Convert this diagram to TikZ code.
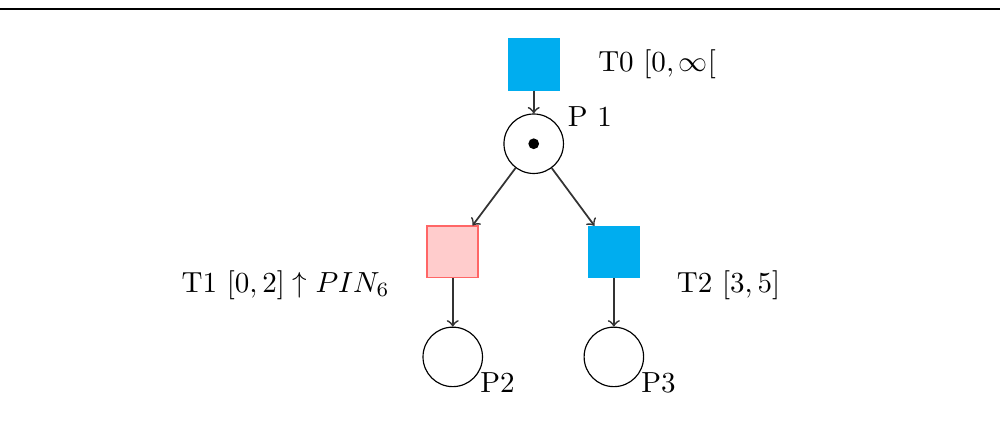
\documentclass[tikz,border=0pt]{standalone}
\usetikzlibrary{positioning}
\begin{document}
\begin{tikzpicture}
    % Define styles
    \tikzset{
        placecircle/.style={circle, draw, minimum size=0.72cm, inner sep=0pt},
        transitionbox/.style={draw=cyan, fill=cyan, minimum size=0.62cm, inner sep=0pt},
        firedbox/.style={draw=red!60, fill=red!20, semithick, minimum size=0.62cm, inner sep=0pt},
        tokendot/.style={circle, fill=black, minimum size=0.13cm, inner sep=0pt},
        arcarrow/.style={->, semithick, black!80}
    }

    % Frame
    \useasboundingbox (0,0) rectangle (12.14,5.12);
    \coordinate (rulel) at (0,5.01);
    \coordinate (ruler) at (12.10,5.01);
    \draw[semithick] (rulel) -- (ruler);

    % Transitions
    \node[transitionbox] (t0) at (6.46,4.34) {};
    \node[firedbox] (t1) at (5.48,2.07) {};
    \node[transitionbox] (t2) at (7.43,2.07) {};

    % Places
    \node[placecircle] (p1) at (6.46,3.38) {};
    \node[tokendot] (tok) at (p1) {};
    \node[placecircle] (p2) at (5.48,0.80) {};
    \node[placecircle] (p3) at (7.43,0.80) {};

    % Arcs
    \draw[arcarrow] (t0) -- (p1);
    \draw[arcarrow] (p1) -- (t1);
    \draw[arcarrow] (p1) -- (t2);
    \draw[arcarrow] (t1) -- (p2);
    \draw[arcarrow] (t2) -- (p3);

    % Labels
    \node[right=0.34cm of t0] (t0lab) {T0 $[0,\infty[$};
    \node[anchor=east] (t1lab) at ([shift={(-0.64,-0.40)}]t1) {T1 $[0,2]\uparrow PIN_6$};
    \node[anchor=west] (t2lab) at ([shift={(0.64,-0.40)}]t2) {T2 $[3,5]$};
    \node[anchor=west] (p1lab) at ([shift={(0.29,0.33)}]p1) {P 1};
    \node[anchor=west] (p2lab) at ([shift={(0.21,-0.31)}]p2) {P2};
    \node[anchor=west] (p3lab) at ([shift={(0.21,-0.31)}]p3) {P3};

\end{tikzpicture}
\end{document}
